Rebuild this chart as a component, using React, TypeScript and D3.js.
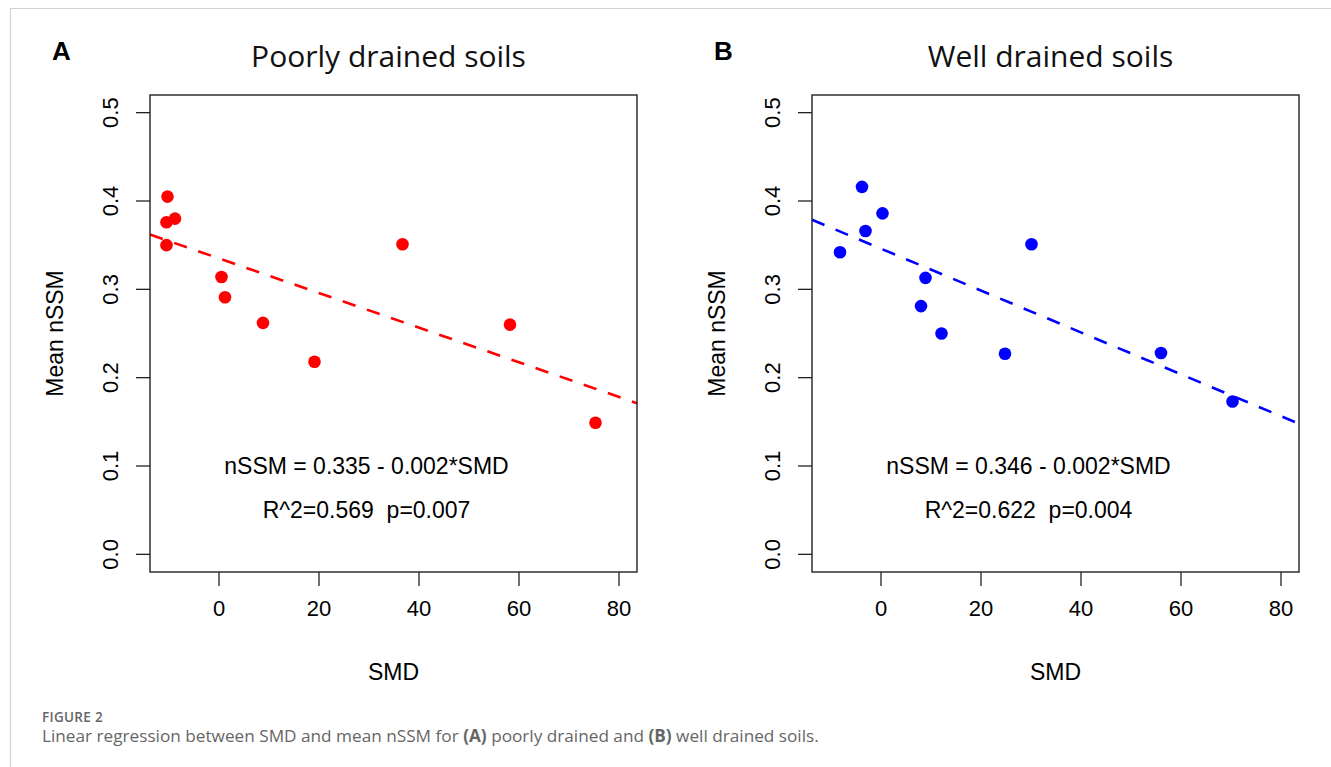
import * as d3 from "d3";

// values
const poorlySMD = [-10.3, -10.5, -8.8, -10.5, 0.5, 1.2, 8.8, 19.1, 36.7, 58.2, 75.3];
const poorlyNSSM = [0.405, 0.376, 0.38, 0.35, 0.314, 0.291, 0.262, 0.218, 0.351, 0.26, 0.149];
const wellSMD = [-8.2, -3.8, -3.1, 0.3, 8.0, 8.9, 12.1, 24.8, 30.1, 56.0, 70.3];
const wellNSSM = [0.342, 0.416, 0.366, 0.386, 0.281, 0.313, 0.25, 0.227, 0.351, 0.228, 0.173];

const poorlyFit = [0.335, -0.00196]; // intercept, slope
const wellFit = [0.346, -0.00237];

const xTicks = [0, 20, 40, 60, 80];
const yTicks = [0, 0.1, 0.2, 0.3, 0.4, 0.5];

const rFont = "'Liberation Sans', Arial, sans-serif";

type PanelProps = {
  left: number;
  letter: string;
  title: string;
  xs: number[];
  ys: number[];
  fit: number[];
  color: string;
  eq: string;
  stats: string;
};

const Panel = ({ left, letter, title, xs, ys, fit, color, eq, stats }: PanelProps) => {
  const top = 95;
  const bottom = 572;
  const right = left + 487;
  const x = d3.scaleLinear().domain([-13.8, 83.6]).range([left, right]);
  const y = d3.scaleLinear().domain([-0.02, 0.52]).range([bottom, top]);
  const pts = xs.map((v, i) => [v, ys[i]] as [number, number]);
  const dom = x.domain();
  const fitLine = d3
    .line<number>()
    .x((d) => x(d))
    .y((d) => y(fit[0] + fit[1] * d));
  const cx = (left + right) / 2;

  return (
    <g>
      <text x={left - 98} y={60} fontFamily={rFont} fontWeight="bold" fontSize={26}>
        {letter}
      </text>
      <text x={cx - 5} y={67} textAnchor="middle" fontFamily="'Open Sans', sans-serif" fontSize={30} fill="#111">
        {title}
      </text>

      {/* regression line */}
      <path
        d={fitLine(dom) || ""}
        stroke={color}
        strokeWidth={2.6}
        strokeDasharray="13.5 12"
        fill="none"
      />

      {pts.map((p, i) => (
        <circle key={i} cx={x(p[0])} cy={y(p[1])} r={6.3} fill={color} />
      ))}

      <rect x={left} y={top} width={right - left} height={bottom - top} fill="none" stroke="#222" strokeWidth={1.4} />

      {xTicks.map((t) => (
        <g key={t}>
          <line x1={x(t)} x2={x(t)} y1={bottom} y2={bottom + 14} stroke="#222" strokeWidth={1.3} />
          <text x={x(t)} y={616} textAnchor="middle" fontFamily={rFont} fontSize={22}>
            {t}
          </text>
        </g>
      ))}
      {yTicks.map((t) => (
        <g key={t}>
          <line x1={left - 14} x2={left} y1={y(t)} y2={y(t)} stroke="#222" strokeWidth={1.3} />
          <text
            transform={`translate(${left - 32},${y(t)}) rotate(-90)`}
            textAnchor="middle"
            fontFamily={rFont}
            fontSize={22}
          >
            {t.toFixed(1)}
          </text>
        </g>
      ))}

      <text x={cx} y={680} textAnchor="middle" fontFamily={rFont} fontSize={23}>
        SMD
      </text>
      <text
        transform={`translate(${left - 87},${(top + bottom) / 2}) rotate(-90)`}
        textAnchor="middle"
        fontFamily={rFont}
        fontSize={23}
      >
        Mean nSSM
      </text>

      <text x={x(29.5)} y={y(0.1)} dy="0.35em" textAnchor="middle" fontFamily={rFont} fontSize={23}>
        {eq}
      </text>
      <text
        x={x(29.5)}
        y={y(0.05)}
        dy="0.35em"
        textAnchor="middle"
        fontFamily={rFont}
        fontSize={23}
        style={{ whiteSpace: "pre" }}
      >
        {stats}
      </text>
    </g>
  );
};

const App = () => {
  return (
    <svg
      width={1331}
      height={767}
      style={{ position: "absolute", left: 0, top: 0, background: "#fff" }}
    >
      <rect x={0} y={0} width={1331} height={767} fill="#fff" />
      <path d="M10.5,767 L10.5,8.5 L1331,8.5" fill="none" stroke="#d3d3d3" strokeWidth={1.2} />

      <Panel
        left={150}
        letter="A"
        title="Poorly drained soils"
        xs={poorlySMD}
        ys={poorlyNSSM}
        fit={poorlyFit}
        color="#ff0000"
        eq="nSSM = 0.335 - 0.002*SMD"
        stats="R^2=0.569  p=0.007"
      />
      <Panel
        left={812}
        letter="B"
        title="Well drained soils"
        xs={wellSMD}
        ys={wellNSSM}
        fit={wellFit}
        color="#0000ff"
        eq="nSSM = 0.346 - 0.002*SMD"
        stats="R^2=0.622  p=0.004"
      />

      <text x={42} y={722} fontFamily="'Open Sans', sans-serif" fontSize={13.5} fontWeight={600} fill="#666" letterSpacing={0.3}>
        FIGURE 2
      </text>
      <text x={42} y={742} fontFamily="'Open Sans', sans-serif" fontSize={17.2} fill="#666">
        Linear regression between SMD and mean nSSM for <tspan fontWeight="bold">(A)</tspan> poorly drained and{" "}
        <tspan fontWeight="bold">(B)</tspan> well drained soils.
      </text>
    </svg>
  );
};

export default App;
